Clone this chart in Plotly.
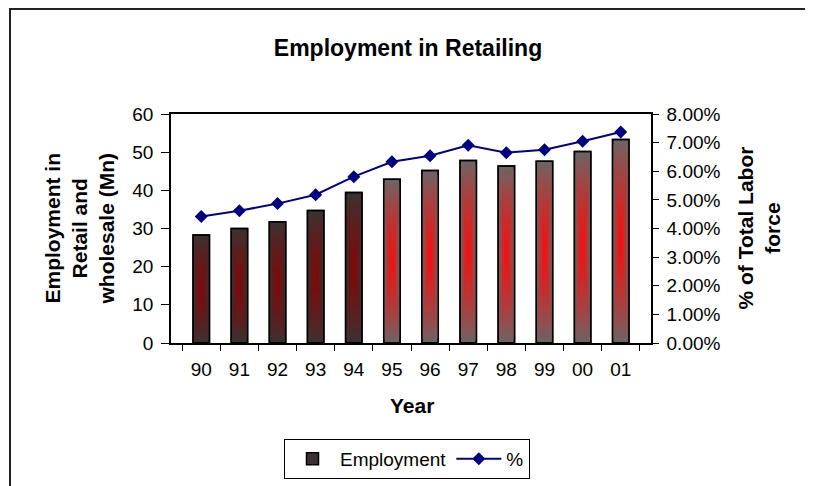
import plotly.graph_objects as go

# ---- data ----
years = ["90", "91", "92", "93", "94", "95", "96", "97", "98", "99", "00", "01"]
employment_mn = [28.3, 30.0, 31.8, 34.7, 39.4, 42.9, 45.2, 47.8, 46.4, 47.6, 50.2, 53.3]
pct_labor_force = [4.42, 4.62, 4.87, 5.18, 5.81, 6.33, 6.54, 6.91, 6.65, 6.75, 7.05, 7.37]

# ---- styling ----
FONT = "Liberation Sans, Arial, sans-serif"
DARK = ((58, 50, 50), (135, 6, 6))      # edge -> centre
LIGHT = ((110, 100, 100), (255, 10, 10))
palette = [DARK] * 5 + [LIGHT] * 7
BAR_W = 0.43
N_LAYERS = 22


def mix(a, b, t):
    return "rgb(%d,%d,%d)" % tuple(round(a[i] + (b[i] - a[i]) * t) for i in range(3))


fig = go.Figure()

# box gradient bars: nested overlaid rectangles from edge to centre
for k in range(N_LAYERS):
    t = k / N_LAYERS
    colors = [mix(p[0], p[1], t ** 0.9) for p in palette]
    fig.add_trace(go.Bar(
        x=years,
        y=[v * (1 - t) for v in employment_mn],
        base=[v * t / 2 for v in employment_mn],
        width=[BAR_W * (1 - t)] * len(years),
        marker=dict(color=colors, line=dict(color="black", width=1.5 if k == 0 else 0)),
        name="Employment",
        showlegend=(k == 0),
        hoverinfo="skip" if k else None,
    ))

# outline on top
fig.add_trace(go.Bar(
    x=years, y=employment_mn, width=[BAR_W] * len(years),
    marker=dict(color="rgba(0,0,0,0)", line=dict(color="black", width=1.5)),
    showlegend=False, hoverinfo="skip",
))

fig.add_trace(go.Scatter(
    x=years, y=[p / 100 for p in pct_labor_force], yaxis="y2",
    mode="lines+markers", name="%",
    line=dict(color="#000080", width=2),
    marker=dict(symbol="diamond", size=10, color="#000080"),
))

# page offset of the figure (body margin)
OFF = 8
W, H = 813 - OFF, 486 - OFF
PL, PT, PR, PB = 171, 114, 651, 343   # plot area in screen pixels
L, T = PL - OFF, PT - OFF
R, B = W - (PR - OFF), H - (PB - OFF)
PW, PH = PR - PL, PB - PT


def px(x):
    return (x - PL) / PW


def py(y):
    return (PB - y) / PH


tickfont = dict(family=FONT, size=19, color="black")
titlefont = dict(family=FONT, size=21, color="black")

fig.update_layout(
    width=W, height=H,
    margin=dict(l=L, r=R, t=T, b=B, autoexpand=False),
    paper_bgcolor="white", plot_bgcolor="white",
    barmode="overlay",
    font=dict(family=FONT, color="black"),
    title=dict(text="<b>Employment in Retailing</b>", x=px(408), xref="paper",
               xanchor="center", y=1 - (48 - OFF) / H, yanchor="middle",
               font=dict(family=FONT, size=23, color="black")),
    xaxis=dict(type="category", showline=True, linecolor="black", linewidth=1.5,
               mirror=True, ticks="outside", tickson="boundaries", ticklen=6,
               ticklabelstandoff=8,
               tickcolor="black", tickfont=tickfont, showgrid=False),
    yaxis=dict(range=[0, 60], dtick=10, showline=True, linecolor="black", linewidth=1.5,
               ticks="outside", ticklen=8, tickcolor="black", tickfont=tickfont,
               ticklabelstandoff=4,
               showgrid=False, zeroline=False),
    yaxis2=dict(range=[0, 0.08], dtick=0.01, tickformat=".2%", overlaying="y", side="right",
                showline=True, linecolor="black", linewidth=1.5, ticks="outside", ticklen=6,
                ticklabelstandoff=4,
                tickcolor="black", tickfont=tickfont, showgrid=False, zeroline=False),
    legend=dict(orientation="h", x=px(407), y=py(459), xanchor="center", yanchor="middle",
                bordercolor="black", borderwidth=1, itemwidth=45,
                font=dict(family=FONT, size=19, color="black"),
                bgcolor="white"),
    annotations=[
        dict(text="<b>Employment in<br>Retail and<br>wholesale (Mn)</b>", x=px(79), y=0.5,
             xref="paper", yref="paper", textangle=-90, showarrow=False,
             xanchor="center", yanchor="middle", font=titlefont),
        dict(text="<b>% of Total Labor<br>force</b>", x=px(758), y=0.5,
             xref="paper", yref="paper", textangle=-90, showarrow=False,
             xanchor="center", yanchor="middle", font=titlefont),
        dict(text="<b>Year</b>", x=px(412), y=py(406), xref="paper", yref="paper",
             showarrow=False, xanchor="center", yanchor="middle", font=titlefont),
    ],
    shapes=[dict(type="rect", xref="paper", yref="paper", x0=px(10), x1=px(900),
                 y0=py(600), y1=py(9), line=dict(color="#222", width=2), layer="below")],
)

fig.write_html("out.html")
